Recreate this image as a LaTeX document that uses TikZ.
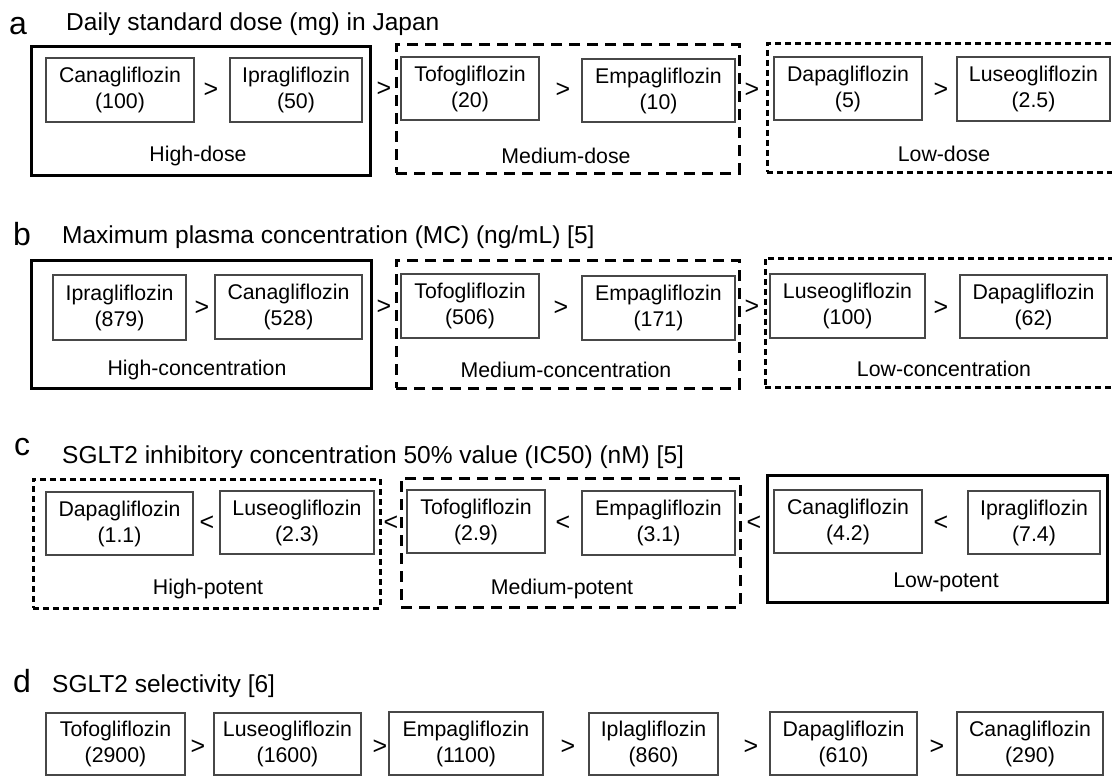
\documentclass[tikz,border=0pt]{standalone}
\usepackage{fontspec}
\setmainfont{Liberation Sans}
\newcommand\drugbox[6]{\node[drug, minimum width={#4-#2}, minimum height={#5-#3}] (#1) at ({(#2+#4)/2},{(#3+#5)/2}) {#6};}
\newcommand\grpbox[6]{\node[#6, minimum width={#4-#2}, minimum height={#5-#3}] (#1) at ({(#2+#4)/2},{(#3+#5)/2}) {};}
\tikzset{
  drug/.style={draw=black!72, line width=1.1pt, inner sep=0pt, outer sep=0pt, align=center, font=\fontsize{21.3}{26}\selectfont},
  grp/.style={inner sep=0pt, outer sep=0pt, line width=3pt, draw=black},
  solidgrp/.style={grp},
  longdash/.style={grp, dash pattern=on 11pt off 7pt},
  shortdash/.style={grp, dash pattern=on 6pt off 4pt},
  rel/.style={font=\fontsize{25}{28}\selectfont, inner sep=0pt},
  glabel/.style={font=\fontsize{21.3}{26}\selectfont, inner sep=0pt},
  ttl/.style={font=\fontsize{24.5}{28}\selectfont, anchor=base west, inner sep=0pt},
  letter/.style={font=\fontsize{32}{36}\selectfont, anchor=base west, inner sep=0pt},
}
\begin{document}
\begin{tikzpicture}[x=1pt,y=-1pt]
\useasboundingbox (0,0) rectangle (1112,776);
\clip (0,0) rectangle (1112,776);

% ---------- a ----------
\node[letter] (la) at (9,35) {a};
\node[ttl] (ta) at (66,31) {Daily standard dose (mg) in Japan};
\grpbox{ahigh}{31}{47}{370}{175}{solidgrp}
\grpbox{amed}{396}{45}{739}{173}{longdash}
\grpbox{alow}{767}{44}{1130}{172}{shortdash}
\drugbox{a1}{46}{58}{194}{122}{Canagliflozin\\(100)}
\node[rel] (ar1) at (211,90) {>};
\drugbox{a2}{230}{58}{362}{122}{Ipragliflozin\\(50)}
\node[rel] (ar2) at (384,89) {>};
\drugbox{a3}{401}{57}{539}{120}{Tofogliflozin\\(20)}
\node[rel] (ar3) at (563,90) {>};
\drugbox{a4}{582}{59}{735}{122}{Empagliflozin\\(10)}
\node[rel] (ar4) at (752,90) {>};
\drugbox{a5}{774}{57}{922}{120}{Dapagliflozin\\(5)}
\node[rel] (ar5) at (941,90) {>};
\drugbox{a6}{957}{57}{1110}{121}{Luseogliflozin\\(2.5)}
\node[glabel] (alh) at (198,156) {High-dose};
\node[glabel] (alm) at (566,156) {Medium-dose};
\node[glabel] (all) at (944,154) {Low-dose};

% ---------- b ----------
\node[letter] (lb) at (13,245) {b};
\node[ttl] (tb) at (62,243) {Maximum plasma concentration (MC) (ng/mL) [5]};
\grpbox{bhigh}{31}{260}{371}{388}{solidgrp}
\grpbox{bmed}{396}{260}{739}{388}{longdash}
\grpbox{blow}{765}{258}{1130}{387}{shortdash}
\drugbox{b1}{53}{275}{186}{340}{Ipragliflozin\\(879)}
\node[rel] (br1) at (202,308) {>};
\drugbox{b2}{215}{275}{362}{339}{Canagliflozin\\(528)}
\node[rel] (br2) at (384,307) {>};
\drugbox{b3}{401}{274}{539}{338}{Tofogliflozin\\(506)}
\node[rel] (br3) at (561,308) {>};
\drugbox{b4}{582}{276}{735}{340}{Empagliflozin\\(171)}
\node[rel] (br4) at (752,307) {>};
\drugbox{b5}{770}{274}{925}{338}{Luseogliflozin\\(100)}
\node[rel] (br5) at (941,308) {>};
\drugbox{b6}{960}{275}{1107}{338}{Dapagliflozin\\(62)}
\node[glabel] (blh) at (197,370) {High-concentration};
\node[glabel] (blm) at (566,370) {Medium-concentration};
\node[glabel] (bll) at (944,369) {Low-concentration};

% ---------- c ----------
\node[letter] (lc) at (14,455) {c};
\node[ttl] (tc) at (62,463) {SGLT2 inhibitory concentration 50\% value (IC50) (nM) [5]};
\grpbox{chigh}{33}{479}{380}{608}{shortdash}
\grpbox{cmed}{401}{478}{740}{607}{longdash}
\grpbox{clow}{767}{475}{1107}{602}{solidgrp}
\drugbox{c1}{46}{492}{193}{555}{Dapagliflozin\\(1.1)}
\node[rel] (cr1) at (207,523) {<};
\drugbox{c2}{220}{491}{374}{554}{Luseogliflozin\\(2.3)}
\node[rel] (cr2) at (391,523) {<};
\drugbox{c3}{407}{490}{545}{553}{Tofogliflozin\\(2.9)}
\node[rel] (cr3) at (563,523) {<};
\drugbox{c4}{582}{491}{735}{555}{Empagliflozin\\(3.1)}
\node[rel] (cr4) at (754,523) {<};
\drugbox{c5}{774}{490}{922}{553}{Canagliflozin\\(4.2)}
\node[rel] (cr5) at (941,523) {<};
\drugbox{c6}{968}{491}{1100}{554}{Ipragliflozin\\(7.4)}
\node[glabel] (clh) at (208,589) {High-potent};
\node[glabel] (clm) at (562,589) {Medium-potent};
\node[glabel] (cll) at (946,582) {Low-potent};

% ---------- d ----------
\node[letter] (ld) at (13,692) {d};
\node[ttl] (td) at (52,692) {SGLT2 selectivity [6]};
\drugbox{d1}{46}{713}{185}{775}{Tofogliflozin\\(2900)}
\node[rel] (dr1) at (198,747) {>};
\drugbox{d2}{214}{713}{361}{775}{Luseogliflozin\\(1600)}
\node[rel] (dr2) at (380,747) {>};
\drugbox{d3}{389}{712}{543}{775}{Empagliflozin\\(1100)}
\node[rel] (dr3) at (568,747) {>};
\drugbox{d4}{589}{713}{718}{775}{Iplagliflozin\\(860)}
\node[rel] (dr4) at (751,747) {>};
\drugbox{d5}{770}{712}{917}{775}{Dapagliflozin\\(610)}
\node[rel] (dr5) at (937,747) {>};
\drugbox{d6}{957}{712}{1103}{775}{Canagliflozin\\(290)}
\end{tikzpicture}
\end{document}
